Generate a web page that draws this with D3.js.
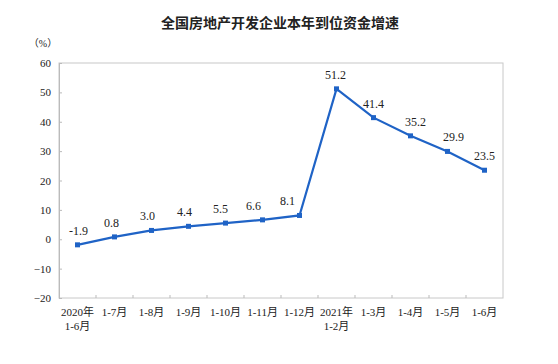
<!DOCTYPE html>
<html>
<head>
<meta charset="utf-8">
<script src="https://cdn.jsdelivr.net/npm/d3@7"></script>
<style>
  body { margin: 0; background: #fff; }
  svg text { font-family: "Liberation Serif", "Noto Sans CJK SC", serif; fill: #222; }
</style>
</head>
<body>
<div class="chart"></div>
<script>
// 数据
const categories = ["2020年\n1-6月", "1-7月", "1-8月", "1-9月", "1-10月", "1-11月", "1-12月",
                    "2021年\n1-2月", "1-3月", "1-4月", "1-5月", "1-6月"];
const values = [-1.9, 0.8, 3.0, 4.4, 5.5, 6.6, 8.1, 51.2, 41.4, 35.2, 29.9, 23.5];
const yTicks = [-20, -10, 0, 10, 20, 30, 40, 50, 60];
// 数值标签的水平微调（避免压线）
const labelDx = [1, -3, -4, -4, -5, -9, -12, -1, 0, 5, 6, 0];

const width = 558, height = 364;
const plotL = 59, plotR = 503, plotT = 63, plotB = 298;

const svg = d3.select(".chart").append("svg")
    .attr("width", width)
    .attr("height", height);

// 标题
svg.append("text")
    .attr("x", 280).attr("y", 28)
    .attr("text-anchor", "middle")
    .style("font-family", "'Noto Sans CJK SC', sans-serif")
    .style("font-size", "14px")
    .style("font-weight", "bold")
    .text("全国房地产开发企业本年到位资金增速");

svg.append("text")
    .attr("x", 43).attr("y", 47)
    .attr("text-anchor", "middle")
    .style("font-size", "10px")
    .text("（%）");

const x = d3.scaleBand().domain(categories).range([plotL, plotR]);
const y = d3.scaleLinear().domain([-20, 60]).range([plotB, plotT]);

// 边框
svg.append("rect")
    .attr("x", plotL).attr("y", plotT)
    .attr("width", plotR - plotL).attr("height", plotB - plotT)
    .attr("fill", "none").attr("stroke", "#c8c8c8").attr("stroke-width", 1);

// y 轴
const yAxis = svg.append("g")
    .attr("transform", `translate(${plotL},0)`)
    .call(d3.axisLeft(y).tickValues(yTicks).tickSize(-3).tickPadding(8).tickFormat(d3.format("d")));
yAxis.select(".domain").attr("stroke", "#bbb");
yAxis.selectAll(".tick line").attr("stroke", "#bbb");
yAxis.selectAll("text").style("font-size", "11px");

// x 轴刻度（类别边界）
svg.selectAll(".xtick")
    .data(categories.slice(1))
    .enter().append("line")
    .attr("x1", d => x(d)).attr("x2", d => x(d))
    .attr("y1", plotB).attr("y2", plotB - 3)
    .attr("stroke", "#bbb");

// x 轴标签
const xl = svg.selectAll(".xlabel")
    .data(categories)
    .enter().append("text")
    .attr("text-anchor", "middle")
    .style("font-size", "11px")
    .attr("transform", d => `translate(${x(d) + x.bandwidth() / 2},316)`);
xl.selectAll("tspan")
    .data(d => d.split("\n"))
    .enter().append("tspan")
    .attr("x", 0)
    .attr("dy", (d, i) => i === 0 ? 0 : 14)
    .text(d => d);

// 折线
const line = d3.line()
    .x((d, i) => x(categories[i]) + x.bandwidth() / 2)
    .y(d => y(d));

svg.append("path")
    .datum(values)
    .attr("d", line)
    .attr("fill", "none")
    .attr("stroke", "#1f63c6")
    .attr("stroke-width", 2.2);

svg.selectAll(".pt")
    .data(values)
    .enter().append("rect")
    .attr("x", (d, i) => x(categories[i]) + x.bandwidth() / 2 - 2.5)
    .attr("y", d => y(d) - 2.5)
    .attr("width", 5).attr("height", 5)
    .attr("fill", "#1f63c6");

// 数值标签
svg.selectAll(".val")
    .data(values)
    .enter().append("text")
    .attr("x", (d, i) => x(categories[i]) + x.bandwidth() / 2 + labelDx[i])
    .attr("y", d => y(d) - 10)
    .attr("text-anchor", "middle")
    .style("font-size", "12px")
    .text(d => d.toFixed(1));
</script>
</body>
</html>
